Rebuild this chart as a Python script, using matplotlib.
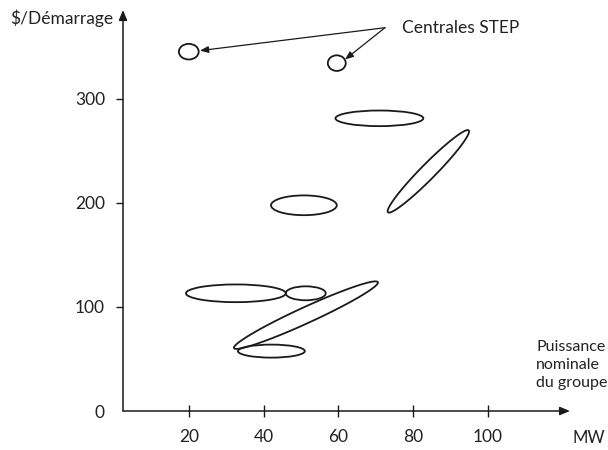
import matplotlib
matplotlib.use("Agg")
import matplotlib.pyplot as plt
from matplotlib.patches import Ellipse, Polygon
import numpy as np

plt.rcParams['font.family'] = ['Lato', 'DejaVu Sans']

# axis ticks
x_ticks = [20, 40, 60, 80, 100]
y_ticks = [0, 100, 200, 300]

# axis-aligned ellipses: centre MW, centre $/start, MW span, $/start span
flat_cx = [20.0, 59.6, 71.0, 50.8, 32.6, 51.3, 42.1]
flat_cy = [345.0, 334.0, 281.0, 197.5, 113.0, 113.0, 57.5]
flat_w = [5.3, 4.8, 23.5, 17.6, 26.7, 10.7, 17.9]
flat_h = [15.0, 15.0, 15.0, 19.0, 17.0, 13.4, 12.5]

# tilted ellipses: major axis end points (MW, $/start)
tilt_x1 = [73.3, 32.1]
tilt_y1 = [190.8, 60.4]
tilt_x2 = [94.9, 70.6]
tilt_y2 = [269.4, 123.7]
tilt_thick = [15.0, 16.0]  # minor axis, pixels

# annotation
label_text = "Centrales STEP"
label_xy = (72.5, 368.0)
arrow_tips = [(23.0, 346.0), (61.8, 337.5)]

col = '#1a1a1a'
fig = plt.figure(figsize=(6.08, 4.5), dpi=100)
ax = fig.add_axes([123/608, 39/450, 447/608, 401/450])
ax.set_xlim(2.4, 122)
ax.set_ylim(0, 385)
for s in ax.spines.values():
    s.set_visible(False)

# axes with arrows
ax.annotate('', xy=(1, 0), xytext=(0, 0), xycoords='axes fraction',
            arrowprops=dict(arrowstyle='-|>,head_length=0.6,head_width=0.25', color=col, lw=1.1,
                            shrinkA=0, shrinkB=0))
ax.annotate('', xy=(0, 1), xytext=(0, 0), xycoords='axes fraction',
            arrowprops=dict(arrowstyle='-|>,head_length=0.6,head_width=0.25', color=col, lw=1.1,
                            shrinkA=0, shrinkB=0))

ax.set_xticks(x_ticks)
ax.set_xticklabels([str(v) for v in x_ticks])
ax.set_yticks(y_ticks)
ax.set_yticklabels([str(v) for v in y_ticks])
ax.tick_params(axis='x', direction='inout', length=8, width=1, color=col, pad=9,
               labelsize=12.5, labelcolor='#222222')
ax.tick_params(axis='y', direction='out', length=5, width=1, color=col, pad=8,
               labelsize=12.5, labelcolor='#222222')
ax.yaxis.get_major_ticks()[0].tick1line.set_visible(False)

for cx, cy, w, h in zip(flat_cx, flat_cy, flat_w, flat_h):
    ax.add_patch(Ellipse((cx, cy), w, h, fill=False, ec=col, lw=1.3))

fig.canvas.draw()
t = np.linspace(0, 2*np.pi, 200)
for x1, y1, x2, y2, th in zip(tilt_x1, tilt_y1, tilt_x2, tilt_y2, tilt_thick):
    p1 = ax.transData.transform((x1, y1))
    p2 = ax.transData.transform((x2, y2))
    c = (p1 + p2) / 2
    d = p2 - p1
    a = np.hypot(*d) / 2
    u = d / np.hypot(*d)
    v = np.array([-u[1], u[0]])
    b = th / 2
    pts = c + np.outer(a*np.cos(t), u) + np.outer(b*np.sin(t), v)
    dpts = ax.transData.inverted().transform(pts)
    ax.add_patch(Polygon(dpts, closed=True, fill=False, ec=col, lw=1.3))

ax.text(label_xy[0] + 4.5, label_xy[1], label_text, fontsize=12.5, color='#222222',
        va='center', ha='left')
for tip in arrow_tips:
    ax.annotate('', xy=tip, xytext=label_xy,
                arrowprops=dict(arrowstyle='-|>,head_length=0.5,head_width=0.2', color=col, lw=0.9,
                                shrinkA=0, shrinkB=0))

fig.text(10/608, 1 - 18/450, "$/Démarrage", fontsize=12.5, color='#222222', va='center', ha='left')
fig.text(536/608, 1 - 365/450, "Puissance\nnominale\ndu groupe", fontsize=11.5, color='#222222',
         va='center', ha='left', linespacing=1.4)
fig.text(573/608, 1 - 438/450, "MW", fontsize=12, color='#222222', va='center', ha='left')

fig.savefig('out.png', dpi=100)
